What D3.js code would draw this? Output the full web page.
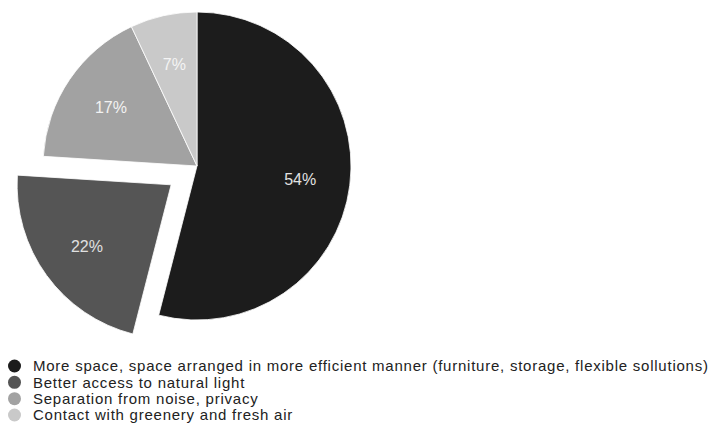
<!DOCTYPE html>
<html>
<head>
<meta charset="utf-8">
<script src="https://cdn.jsdelivr.net/npm/d3@7"></script>
<style>
  body { margin: 0; background: #fff; }
  svg { display: block; font-family: "Liberation Sans", Arial, sans-serif; }
</style>
</head>
<body>
<svg id="chart" width="710" height="426"></svg>
<script>
// data
const categories = [
    "More space, space arranged in more efficient manner (furniture, storage, flexible sollutions)",
    "Better access to natural light",
    "Separation from noise, privacy",
    "Contact with greenery and fresh air"
];
const values = [54, 22, 17, 7];
const labels = ["54%", "22%", "17%", "7%"];
const exploded = [false, true, false, false];

const colors = ["#1c1c1c", "#555555", "#a2a2a2", "#c9c9c9"];
const labelColors = ["#e2e2e2", "#e0e0e0", "#f2f2f2", "#f4f4f4"];

let svg = d3.select("#chart");

let cx = 197, cy = 166, radius = 154;
let explode = 32;

let pie = d3.pie().sort(null).value(d => d.value);
let arc = d3.arc().innerRadius(0).outerRadius(radius);
let labelArc = d3.arc().innerRadius(104).outerRadius(104);

let rows = values.map((v, i) => ({ value: v, label: labels[i], color: colors[i], lc: labelColors[i], ex: exploded[i] }));

let g = svg.append("g").attr("transform", "translate(" + cx + "," + cy + ")");

let slices = g.selectAll("g.slice")
    .data(pie(rows))
    .enter()
    .append("g")
    .attr("class", "slice")
    .attr("transform", d => {
        if (!d.data.ex) return null;
        let mid = (d.startAngle + d.endAngle) / 2;
        return "translate(" + (Math.sin(mid) * explode) + "," + (-Math.cos(mid) * explode) + ")";
    });

slices.append("path")
    .attr("d", arc)
    .attr("fill", d => d.data.color)
    .attr("stroke", "#fff")
    .attr("stroke-width", 0.8);

slices.append("text")
    .attr("transform", d => "translate(" + labelArc.centroid(d) + ")")
    .attr("text-anchor", "middle")
    .attr("dy", "0.35em")
    .attr("font-size", 16)
    .attr("fill", d => d.data.lc)
    .text(d => d.data.label);

// legend
let legend = svg.append("g");
let rowY = d3.scalePoint().domain(d3.range(categories.length)).range([366, 415]);

let item = legend.selectAll("g")
    .data(categories)
    .enter()
    .append("g")
    .attr("transform", (d, i) => "translate(0," + rowY(i) + ")");

item.append("circle")
    .attr("cx", 14.5)
    .attr("cy", 0)
    .attr("r", 6.5)
    .attr("fill", (d, i) => colors[i]);

item.append("text")
    .attr("x", 33)
    .attr("dy", "0.35em")
    .attr("font-size", 15)
    .attr("letter-spacing", 0.76)
    .attr("fill", "#222")
    .text(d => d);
</script>
</body>
</html>
